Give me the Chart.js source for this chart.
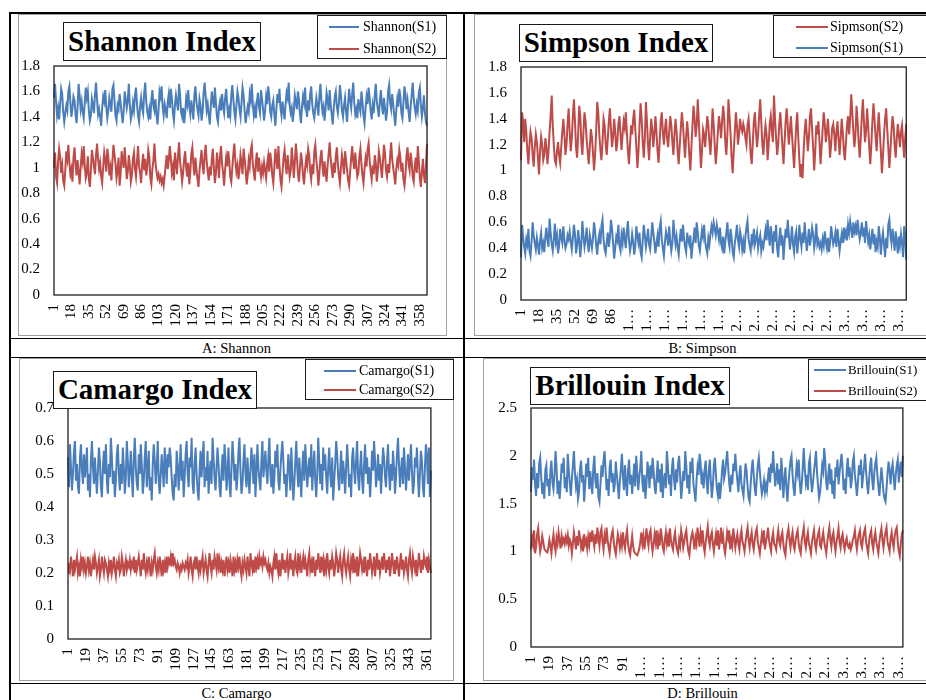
<!DOCTYPE html>
<html><head><meta charset="utf-8">
<script src="https://cdn.jsdelivr.net/npm/chart.js@4/dist/chart.umd.min.js"></script>
<style>
html,body{margin:0;padding:0;background:#fff;}
body{width:926px;height:700px;position:relative;overflow:hidden;font-family:"Liberation Serif","Times New Roman",serif;color:#000;}
.ln{position:absolute;background:#000;}
.cap{position:absolute;text-align:center;font-size:14.5px;line-height:19px;}
.cv{position:absolute;}
.frame{position:absolute;box-sizing:border-box;border:1.5px solid #a0a0a0;pointer-events:none;}
.title{position:absolute;box-sizing:border-box;border:1.5px solid #1a1a1a;background:#fff;font-weight:bold;font-size:29px;text-align:center;white-space:nowrap;}
.leg{position:absolute;box-sizing:border-box;border:1.5px solid #1a1a1a;background:#fff;}
.leg .row{position:absolute;left:0;right:0;height:0;}
.leg .sw{position:absolute;height:1.5px;top:-0.75px;}
.leg .tx{position:absolute;top:-9px;line-height:18px;white-space:nowrap;}
</style>
</head><body>

<div class="ln" style="left:10px;top:12px;width:930px;height:1.5px"></div>
<div class="ln" style="left:9px;top:12px;width:2px;height:700px"></div>
<div class="ln" style="left:463px;top:12px;width:1.5px;height:700px"></div>
<div class="ln" style="left:10px;top:337.5px;width:930px;height:1.5px"></div>
<div class="ln" style="left:10px;top:356.5px;width:930px;height:1.5px"></div>
<div class="ln" style="left:10px;top:682.5px;width:930px;height:1.5px"></div>

<div class="cap" style="left:10px;width:453px;top:339px">A: Shannon</div>
<div class="cap" style="left:464px;width:477px;top:339px">B: Simpson</div>
<div class="cap" style="left:10px;width:453px;top:684px">C: Camargo</div>
<div class="cap" style="left:464px;width:477px;top:684px">D: Brillouin</div>

<canvas id="cA" class="cv" width="429" height="322" style="left:18px;top:14px"></canvas>
<div class="frame" style="left:18px;top:14px;width:429px;height:322px"></div>
<canvas id="cB" class="cv" width="452" height="322" style="left:474px;top:14px"></canvas>
<div class="frame" style="left:474px;top:14px;width:460px;height:322px"></div>
<canvas id="cC" class="cv" width="435" height="323" style="left:19px;top:358px"></canvas>
<div class="frame" style="left:19px;top:358px;width:435px;height:323px"></div>
<canvas id="cD" class="cv" width="443" height="323" style="left:483px;top:358px"></canvas>
<div class="frame" style="left:483px;top:358px;width:450px;height:323px"></div>

<div class="title" style="left:63px;top:22px;width:198px;height:39px;line-height:36px">Shannon Index</div>
<div class="title" style="left:519px;top:24px;width:194px;height:38px;line-height:35px">Simpson Index</div>
<div class="title" style="left:53px;top:371px;width:204px;height:38px;line-height:35px">Camargo Index</div>
<div class="title" style="left:530px;top:367px;width:200px;height:38px;line-height:35px">Brillouin Index</div>

<div class="leg" style="left:317px;top:15px;width:130px;height:44px;font-size:14px">
  <div class="row" style="top:11px"><div class="sw" style="left:11px;width:30px;background:#4A7EBB"></div><div class="tx" style="left:45px">Shannon(S1)</div></div>
  <div class="row" style="top:33px"><div class="sw" style="left:11px;width:30px;background:#BE4B48"></div><div class="tx" style="left:45px">Shannon(S2)</div></div>
</div>
<div class="leg" style="left:773px;top:15px;width:160px;height:43px;font-size:14px">
  <div class="row" style="top:11px"><div class="sw" style="left:22px;width:32px;background:#BE4B48"></div><div class="tx" style="left:56px">Sipmson(S2)</div></div>
  <div class="row" style="top:32px"><div class="sw" style="left:22px;width:32px;background:#4A7EBB"></div><div class="tx" style="left:56px">Sipmson(S1)</div></div>
</div>
<div class="leg" style="left:305px;top:359px;width:149px;height:41px;font-size:14px">
  <div class="row" style="top:11px"><div class="sw" style="left:18px;width:32px;background:#4A7EBB"></div><div class="tx" style="left:53px">Camargo(S1)</div></div>
  <div class="row" style="top:30px"><div class="sw" style="left:18px;width:32px;background:#BE4B48"></div><div class="tx" style="left:53px">Camargo(S2)</div></div>
</div>
<div class="leg" style="left:808px;top:359px;width:125px;height:42px;font-size:13px">
  <div class="row" style="top:10px"><div class="sw" style="left:5px;width:32px;background:#4A7EBB"></div><div class="tx" style="left:39px">Brillouin(S1)</div></div>
  <div class="row" style="top:31px"><div class="sw" style="left:5px;width:32px;background:#BE4B48"></div><div class="tx" style="left:39px">Brillouin(S2)</div></div>
</div>

<script>
const shannonS1 = [
1.55,1.66,1.52,1.41,1.47,1.38,1.50,1.62,1.58,1.44,1.36,1.43,1.49,1.45,1.60,1.64,1.51,1.40,1.47,1.56,
1.53,1.42,1.35,1.48,1.66,1.57,1.46,1.52,1.44,1.39,1.51,1.63,1.55,1.60,1.45,1.37,1.41,1.54,1.49,1.43,
1.58,1.67,1.54,1.42,1.46,1.40,1.33,1.47,1.56,1.52,1.61,1.48,1.39,1.45,1.55,1.50,1.44,1.62,1.65,1.53,
1.41,1.37,1.49,1.46,1.58,1.51,1.43,1.35,1.44,1.60,1.54,1.47,1.53,1.66,1.49,1.38,1.42,1.51,1.45,1.57,
1.63,1.50,1.41,1.36,1.48,1.55,1.47,1.43,1.59,1.67,1.52,1.44,1.40,1.46,1.38,1.53,1.61,1.49,1.45,1.54,
1.42,1.34,1.45,1.60,1.56,1.64,1.48,1.41,1.50,1.46,1.39,1.52,1.58,1.47,1.62,1.55,1.43,1.37,1.49,1.57,
1.51,1.45,1.66,1.58,1.44,1.40,1.47,1.35,1.43,1.55,1.50,1.61,1.48,1.42,1.53,1.46,1.38,1.57,1.64,1.52,
1.46,1.41,1.54,1.49,1.37,1.44,1.59,1.67,1.56,1.45,1.50,1.42,1.34,1.48,1.60,1.53,1.47,1.63,1.51,1.40,
1.36,1.47,1.52,1.45,1.58,1.48,1.43,1.55,1.62,1.50,1.39,1.46,1.41,1.57,1.65,1.54,1.44,1.38,1.49,1.60,
1.55,1.46,1.40,1.51,1.63,1.57,1.45,1.35,1.42,1.48,1.44,1.58,1.53,1.66,1.50,1.41,1.47,1.39,1.52,1.59,
1.48,1.43,1.61,1.54,1.46,1.37,1.45,1.56,1.50,1.64,1.57,1.44,1.40,1.49,1.53,1.42,1.33,1.46,1.58,1.51,
1.62,1.47,1.41,1.52,1.45,1.38,1.50,1.59,1.55,1.67,1.49,1.43,1.47,1.36,1.44,1.57,1.52,1.46,1.60,1.54,
1.42,1.35,1.48,1.56,1.51,1.63,1.46,1.40,1.53,1.45,1.58,1.64,1.50,1.43,1.39,1.47,1.55,1.49,1.41,1.57,
1.66,1.52,1.44,1.48,1.37,1.46,1.59,1.54,1.45,1.61,1.50,1.42,1.34,1.47,1.56,1.60,1.48,1.43,1.51,1.65,
1.57,1.45,1.40,1.49,1.55,1.44,1.36,1.50,1.62,1.53,1.47,1.58,1.67,1.51,1.42,1.46,1.39,1.54,1.48,1.44,
1.60,1.52,1.41,1.35,1.47,1.56,1.50,1.63,1.55,1.45,1.38,1.49,1.43,1.57,1.66,1.52,1.46,1.40,1.53,1.61,
1.49,1.42,1.55,1.47,1.37,1.44,1.60,1.65,1.51,1.46,1.58,1.50,1.41,1.33,1.45,1.54,1.48,1.62,1.56,1.43,
1.39,1.51,1.64,1.58,1.46,1.53,1.44,1.36,1.48,1.57,1.67,1.55,1.47,1.42,1.50,1.45,1.59,1.63,1.49,1.40,
1.47,1.57,1.43,1.36,1.33];
const shannonS2 = [
1.00,1.12,0.93,0.88,1.05,1.15,1.09,0.96,1.02,0.90,0.86,0.98,1.13,1.07,1.18,1.04,0.95,0.99,0.89,1.08,
1.16,1.03,0.94,1.06,0.97,0.87,1.00,1.11,1.05,1.17,1.02,0.92,0.96,1.09,0.91,0.85,0.98,1.14,1.08,1.01,
0.95,1.10,1.19,1.07,0.99,1.04,0.93,0.88,1.01,1.12,1.06,0.97,1.15,1.09,0.94,1.00,0.90,1.05,1.18,1.11,
1.03,0.92,0.98,1.08,0.86,0.95,1.13,1.06,1.00,1.16,1.04,0.91,0.97,1.10,1.02,0.89,0.94,1.07,1.12,0.99,
0.93,1.05,1.17,1.01,0.96,0.88,1.03,1.11,0.98,1.07,0.94,1.00,1.14,1.09,0.92,0.87,0.99,1.06,1.19,1.04,
0.97,0.92,0.95,0.90,0.93,0.88,0.91,0.86,0.94,1.02,1.10,0.99,1.06,1.17,1.08,0.96,1.01,0.90,1.12,1.04,
0.95,1.09,1.20,1.05,0.98,0.89,0.96,1.07,1.13,1.00,0.93,1.04,0.87,0.97,1.11,1.16,1.03,0.94,1.08,0.99,
0.91,0.85,0.98,1.06,1.14,1.02,0.95,1.10,1.18,1.05,0.97,0.90,1.01,0.94,1.07,1.15,1.00,0.88,0.96,1.12,
1.04,0.92,1.09,1.17,1.03,0.96,0.86,0.99,1.08,1.01,1.13,1.06,0.93,0.89,1.00,1.11,1.19,1.05,0.97,1.02,
0.91,0.98,1.10,1.04,0.95,1.15,1.07,0.99,0.87,0.94,1.06,1.01,1.14,1.18,1.03,0.96,0.90,1.05,1.12,0.97,
1.08,0.99,0.93,1.01,0.96,1.04,0.98,0.92,1.03,1.09,0.97,1.12,1.05,0.94,0.88,1.00,1.15,1.07,0.99,1.17,
1.02,0.90,0.85,0.97,1.08,1.14,1.03,0.95,1.10,1.01,0.93,0.98,1.16,1.06,0.92,1.04,1.19,1.09,0.96,0.89,
1.00,1.12,1.05,0.94,0.87,0.99,1.07,1.02,1.15,1.10,0.97,0.91,1.03,0.95,1.13,1.18,1.06,0.98,0.86,0.96,
1.08,1.14,1.01,0.93,1.05,0.97,0.89,1.02,1.11,1.20,1.07,0.99,0.92,1.04,0.96,1.09,1.16,1.03,0.94,0.88,
1.00,1.10,1.04,0.95,1.13,1.06,0.98,0.90,0.86,0.97,1.08,1.17,1.05,0.99,1.12,1.01,0.93,0.96,1.09,1.15,
1.03,0.94,0.88,0.99,1.07,1.01,1.14,1.19,1.06,0.97,0.91,1.02,0.95,1.10,1.04,0.89,0.98,1.13,1.08,1.00,
0.92,1.05,1.18,1.11,0.98,0.93,1.03,0.96,1.09,1.20,1.07,1.00,0.94,0.87,0.99,1.06,1.02,1.14,1.08,0.97,
1.04,0.91,0.86,0.95,1.10,1.16,1.03,0.98,1.12,1.05,0.93,0.89,1.01,1.08,0.96,1.17,1.06,0.92,0.85,0.97,
1.07,0.94,0.88,1.02,1.19];
const simpsonS2 = [
1.08,1.45,1.38,1.22,1.40,1.30,1.15,1.05,1.20,1.30,1.25,1.12,1.03,1.18,1.28,1.22,1.10,0.97,1.15,1.26,
1.20,1.08,1.12,1.25,1.18,1.05,1.15,1.30,1.42,1.58,1.35,1.20,1.08,1.05,1.15,1.22,1.12,1.06,1.18,1.30,
1.40,1.28,1.12,1.20,1.36,1.48,1.30,1.15,1.25,1.42,1.55,1.38,1.18,1.10,1.28,1.50,1.42,1.22,1.12,1.30,
1.45,1.38,1.24,1.15,1.05,1.18,1.32,1.26,1.14,1.00,1.12,1.30,1.53,1.45,1.28,1.16,1.08,1.22,1.40,1.35,
1.20,1.12,1.25,1.38,1.48,1.32,1.18,1.26,1.40,1.30,1.15,1.22,1.36,1.42,1.28,1.16,1.28,1.38,1.33,1.45,
1.30,1.15,1.05,1.20,1.35,1.28,1.40,1.47,1.32,1.18,1.02,1.15,1.35,1.52,1.40,1.22,1.10,1.25,1.53,1.38,
1.20,1.08,1.25,1.40,1.32,1.18,1.28,1.42,1.30,1.15,1.06,1.22,1.38,1.45,1.30,1.20,1.32,1.40,1.25,1.18,
1.30,1.42,1.35,1.22,1.12,1.28,1.40,1.30,1.15,1.05,1.20,1.33,1.45,1.36,1.22,1.10,1.26,1.38,1.28,1.12,
1.00,1.18,1.35,1.50,1.40,1.26,1.35,1.55,1.38,1.20,1.02,1.15,1.32,1.28,1.18,1.30,1.42,1.35,1.22,1.12,
1.28,1.48,1.36,1.20,1.05,1.16,1.30,1.42,1.35,1.25,1.38,1.50,1.40,1.22,1.12,1.28,1.55,1.42,1.28,1.10,
0.98,1.15,1.30,1.45,1.35,1.20,1.28,1.40,1.33,1.30,1.36,1.32,1.25,1.20,1.35,1.40,1.28,1.12,1.05,1.22,
1.38,1.45,1.30,1.18,1.28,1.42,1.55,1.38,1.20,1.12,1.26,1.35,1.28,1.08,1.20,1.36,1.42,1.30,1.22,1.58,
1.40,1.25,1.12,1.20,1.36,1.45,1.32,1.18,1.05,1.22,1.38,1.48,1.35,1.20,1.30,1.42,1.28,1.15,1.02,1.18,
1.35,1.45,1.25,1.08,0.95,1.05,0.94,1.15,1.30,1.40,1.28,1.15,1.25,1.42,1.48,1.32,1.18,1.00,1.15,1.35,
1.28,1.38,1.22,1.05,1.18,1.32,1.45,1.36,1.22,1.30,1.40,1.26,1.10,1.20,1.33,1.36,1.28,1.15,1.30,1.38,
1.25,1.12,1.25,1.40,1.30,1.15,1.08,1.22,1.35,1.42,1.28,1.40,1.59,1.45,1.30,1.18,1.28,1.50,1.38,1.22,
1.10,1.25,1.42,1.55,1.38,1.22,1.30,1.48,1.35,1.18,1.05,1.20,1.38,1.52,1.40,1.26,1.15,1.32,1.45,1.30,
1.15,0.98,1.12,1.28,1.40,1.48,1.32,1.18,1.02,1.15,1.30,1.42,1.35,1.20,1.10,1.25,1.36,1.28,1.18,1.30,
1.35,1.22,1.10,1.25,1.36];
const simpsonS1 = [
0.33,0.58,0.49,0.41,0.36,0.47,0.43,0.55,0.38,0.34,0.45,0.60,0.50,0.44,0.39,0.48,0.42,0.35,0.46,0.52,
0.40,0.44,0.37,0.49,0.56,0.46,0.41,0.63,0.52,0.43,0.38,0.47,0.59,0.45,0.50,0.36,0.42,0.55,0.48,0.44,
0.57,0.46,0.40,0.43,0.50,0.47,0.53,0.45,0.39,0.48,0.58,0.51,0.36,0.42,0.54,0.46,0.33,0.44,0.61,0.49,
0.41,0.47,0.56,0.44,0.37,0.50,0.45,0.40,0.48,0.60,0.53,0.42,0.35,0.46,0.51,0.43,0.57,0.62,0.47,0.39,
0.36,0.45,0.52,0.41,0.48,0.62,0.55,0.44,0.32,0.40,0.49,0.46,0.58,0.42,0.38,0.50,0.44,0.56,0.47,0.40,
0.53,0.61,0.46,0.38,0.43,0.51,0.45,0.35,0.42,0.57,0.49,0.44,0.52,0.37,0.33,0.46,0.58,0.50,0.41,0.47,
0.55,0.43,0.39,0.48,0.60,0.52,0.45,0.36,0.44,0.50,0.41,0.56,0.61,0.47,0.40,0.34,0.45,0.53,0.49,0.42,
0.57,0.46,0.38,0.44,0.62,0.51,0.43,0.49,0.40,0.35,0.47,0.55,0.45,0.58,0.48,0.41,0.37,0.52,0.46,0.43,
0.50,0.32,0.41,0.47,0.56,0.44,0.60,0.52,0.42,0.38,0.46,0.54,0.49,0.58,0.45,0.40,0.36,0.48,0.43,0.51,
0.57,0.52,0.60,0.55,0.50,0.58,0.53,0.47,0.56,0.44,0.40,0.49,0.36,0.45,0.52,0.60,0.46,0.41,0.55,0.48,
0.37,0.33,0.44,0.50,0.58,0.46,0.41,0.53,0.48,0.39,0.45,0.36,0.49,0.56,0.61,0.47,0.42,0.38,0.51,0.45,
0.55,0.43,0.47,0.52,0.40,0.46,0.50,0.38,0.44,0.41,0.48,0.54,0.46,0.62,0.51,0.42,0.57,0.49,0.36,0.53,
0.45,0.58,0.40,0.33,0.47,0.56,0.42,0.50,0.31,0.44,0.55,0.48,0.62,0.51,0.39,0.46,0.57,0.43,0.37,0.49,
0.53,0.36,0.45,0.58,0.47,0.41,0.52,0.44,0.60,0.49,0.38,0.46,0.55,0.42,0.48,0.56,0.51,0.40,0.46,0.59,
0.43,0.46,0.41,0.44,0.39,0.47,0.42,0.53,0.45,0.40,0.48,0.37,0.44,0.57,0.50,0.43,0.46,0.52,0.41,0.55,
0.47,0.38,0.45,0.51,0.44,0.56,0.49,0.53,0.46,0.58,0.52,0.61,0.55,0.48,0.60,0.53,0.57,0.50,0.62,0.54,
0.47,0.52,0.60,0.49,0.56,0.44,0.61,0.53,0.45,0.50,0.39,0.47,0.55,0.43,0.51,0.37,0.45,0.41,0.57,0.49,
0.35,0.46,0.52,0.43,0.33,0.48,0.40,0.58,0.62,0.50,0.44,0.55,0.47,0.38,0.53,0.45,0.36,0.49,0.42,0.51,
0.44,0.33,0.57,0.49,0.31];
const camargoS1 = [
0.55,0.46,0.59,0.52,0.45,0.50,0.57,0.60,0.48,0.53,0.46,0.44,0.55,0.59,0.51,0.47,0.56,0.49,0.53,0.58,
0.45,0.50,0.43,0.54,0.60,0.52,0.47,0.55,0.49,0.44,0.51,0.58,0.54,0.46,0.43,0.52,0.57,0.50,0.59,0.48,
0.44,0.53,0.49,0.61,0.55,0.47,0.51,0.43,0.48,0.56,0.59,0.50,0.45,0.53,0.47,0.58,0.52,0.44,0.49,0.60,
0.54,0.46,0.51,0.57,0.49,0.43,0.55,0.61,0.52,0.47,0.45,0.56,0.50,0.59,0.53,0.44,0.48,0.55,0.60,0.46,
0.51,0.57,0.45,0.49,0.42,0.53,0.59,0.54,0.47,0.52,0.60,0.48,0.44,0.50,0.56,0.51,0.46,0.58,0.53,0.47,
0.56,0.52,0.58,0.55,0.49,0.44,0.42,0.50,0.46,0.57,0.53,0.45,0.51,0.59,0.48,0.54,0.43,0.49,0.56,0.60,
0.50,0.46,0.55,0.52,0.61,0.47,0.44,0.53,0.58,0.50,0.45,0.42,0.51,0.57,0.49,0.55,0.60,0.46,0.52,0.48,
0.57,0.44,0.50,0.54,0.47,0.61,0.55,0.49,0.45,0.52,0.58,0.53,0.46,0.43,0.51,0.56,0.48,0.59,0.54,0.45,
0.50,0.58,0.47,0.43,0.52,0.60,0.55,0.48,0.53,0.45,0.49,0.57,0.61,0.51,0.44,0.47,0.54,0.59,0.50,0.46,
0.55,0.49,0.44,0.51,0.58,0.53,0.47,0.56,0.43,0.50,0.59,0.52,0.48,0.45,0.54,0.60,0.49,0.53,0.57,0.51,
0.47,0.55,0.61,0.50,0.46,0.53,0.44,0.49,0.57,0.52,0.59,0.48,0.45,0.51,0.56,0.60,0.54,0.47,0.50,0.43,
0.49,0.56,0.52,0.45,0.58,0.50,0.42,0.47,0.54,0.60,0.51,0.46,0.55,0.49,0.43,0.52,0.57,0.48,0.59,0.53,
0.46,0.51,0.55,0.49,0.59,0.45,0.52,0.57,0.48,0.43,0.50,0.61,0.54,0.47,0.53,0.45,0.58,0.51,0.56,0.49,
0.44,0.52,0.58,0.50,0.46,0.55,0.42,0.48,0.53,0.60,0.56,0.49,0.45,0.51,0.57,0.47,0.54,0.50,0.44,0.52,
0.59,0.53,0.46,0.50,0.43,0.55,0.58,0.51,0.47,0.54,0.60,0.49,0.45,0.52,0.57,0.48,0.44,0.53,0.59,0.50,
0.55,0.47,0.52,0.43,0.49,0.57,0.51,0.60,0.54,0.46,0.50,0.56,0.48,0.53,0.44,0.51,0.58,0.55,0.49,0.46,
0.54,0.59,0.50,0.45,0.53,0.48,0.57,0.52,0.44,0.49,0.56,0.61,0.53,0.46,0.51,0.55,0.47,0.58,0.52,0.45,
0.50,0.56,0.48,0.53,0.59,0.51,0.44,0.47,0.55,0.52,0.58,0.49,0.43,0.50,0.57,0.54,0.46,0.43,0.52,0.59,
0.55,0.47,0.58,0.43,0.51];
const camargoS2 = [
0.20,0.23,0.21,0.25,0.22,0.19,0.24,0.21,0.23,0.25,0.20,0.22,0.19,0.24,0.22,0.25,0.21,0.23,0.20,0.22,
0.25,0.21,0.23,0.19,0.22,0.24,0.21,0.25,0.23,0.20,0.22,0.24,0.19,0.21,0.25,0.22,0.20,0.24,0.23,0.21,
0.19,0.23,0.21,0.24,0.20,0.22,0.25,0.21,0.19,0.23,0.22,0.24,0.20,0.21,0.25,0.23,0.19,0.22,0.24,0.21,
0.23,0.22,0.24,0.21,0.23,0.22,0.25,0.20,0.24,0.21,0.23,0.25,0.22,0.19,0.24,0.21,0.26,0.22,0.20,0.23,
0.21,0.25,0.22,0.19,0.23,0.21,0.24,0.26,0.22,0.20,0.23,0.21,0.25,0.22,0.19,0.24,0.21,0.23,0.20,0.25,
0.22,0.24,0.23,0.25,0.22,0.26,0.23,0.24,0.22,0.21,0.23,0.22,0.20,0.22,0.21,0.23,0.22,0.21,0.23,0.22,
0.24,0.20,0.22,0.25,0.21,0.19,0.23,0.24,0.21,0.25,0.22,0.20,0.24,0.21,0.23,0.25,0.20,0.22,0.24,0.21,
0.19,0.23,0.26,0.22,0.20,0.24,0.21,0.25,0.23,0.21,0.26,0.22,0.24,0.20,0.23,0.21,0.24,0.19,0.22,0.25,
0.21,0.23,0.20,0.24,0.22,0.19,0.25,0.21,0.23,0.20,0.24,0.22,0.25,0.21,0.19,0.23,0.21,0.24,0.22,0.20,
0.25,0.22,0.19,0.26,0.23,0.21,0.24,0.20,0.25,0.22,0.24,0.21,0.25,0.23,0.24,0.22,0.25,0.23,0.24,0.22,
0.21,0.23,0.20,0.22,0.21,0.19,0.23,0.25,0.21,0.26,0.22,0.20,0.24,0.19,0.22,0.26,0.21,0.24,0.20,0.23,
0.25,0.20,0.22,0.26,0.21,0.24,0.19,0.23,0.25,0.21,0.20,0.26,0.22,0.24,0.20,0.23,0.25,0.21,0.24,0.22,
0.19,0.24,0.26,0.21,0.23,0.20,0.25,0.22,0.19,0.24,0.21,0.26,0.23,0.20,0.25,0.22,0.24,0.19,0.23,0.21,
0.26,0.22,0.20,0.24,0.21,0.25,0.23,0.19,0.22,0.26,0.24,0.20,0.23,0.25,0.21,0.19,0.24,0.26,0.22,0.20,
0.23,0.25,0.21,0.19,0.24,0.22,0.26,0.20,0.23,0.21,0.25,0.19,0.22,0.26,0.24,0.21,0.23,0.20,0.25,0.22,
0.19,0.24,0.21,0.26,0.23,0.20,0.22,0.25,0.19,0.23,0.26,0.21,0.24,0.20,0.22,0.25,0.21,0.26,0.23,0.20,
0.24,0.21,0.25,0.19,0.22,0.26,0.23,0.20,0.24,0.21,0.25,0.22,0.19,0.23,0.26,0.21,0.24,0.20,0.22,0.25,
0.21,0.19,0.24,0.26,0.22,0.20,0.25,0.23,0.21,0.24,0.19,0.22,0.26,0.23,0.20,0.24,0.21,0.25,0.23,0.22,
0.25,0.20,0.24,0.22,0.20];
const brillouinS1 = [
1.62,1.88,1.75,1.96,1.70,1.58,1.82,1.66,1.92,1.98,1.78,1.60,1.72,1.55,1.85,1.90,1.68,1.76,1.58,1.84,
1.95,1.72,1.65,1.80,2.05,1.88,1.60,1.74,1.55,1.70,1.92,1.82,1.98,1.66,1.78,1.62,2.02,1.85,1.70,1.58,
1.76,1.90,2.05,1.82,1.68,1.75,1.55,1.62,1.86,1.95,1.72,1.80,1.52,1.68,1.92,1.78,1.98,1.65,1.84,1.70,
1.60,1.88,2.00,1.74,1.66,1.82,1.57,1.52,1.70,1.90,1.78,1.95,2.05,1.85,1.64,1.76,1.58,1.88,1.96,1.72,
1.82,1.62,1.70,1.94,1.80,1.68,1.55,1.74,1.86,2.02,1.78,1.64,1.90,1.72,1.58,1.84,1.96,1.70,1.80,1.60,
1.75,1.92,1.68,2.00,1.82,1.64,1.78,1.88,2.05,1.72,1.62,1.80,1.55,1.70,1.94,1.85,1.66,1.90,1.76,1.98,
1.84,1.68,1.60,1.78,1.95,1.72,1.86,1.62,1.92,1.56,1.74,1.82,1.66,2.05,1.90,1.70,1.80,1.58,1.88,1.98,
1.76,1.64,1.86,1.72,1.92,2.00,1.78,1.55,1.68,1.84,1.74,2.05,1.90,1.66,1.80,1.60,1.94,1.82,1.98,1.70,
1.62,1.52,1.74,1.88,1.80,2.02,1.92,1.70,1.78,1.66,1.86,1.95,1.72,1.60,1.84,1.96,1.74,1.56,1.68,1.90,
1.98,1.80,1.65,1.58,1.72,1.55,1.68,1.85,1.96,1.76,1.82,1.94,2.05,1.88,1.72,1.62,1.80,1.70,1.92,1.84,
2.02,1.86,1.74,1.62,1.80,1.90,1.70,1.64,1.58,1.76,1.92,1.84,1.68,1.56,1.52,1.70,1.86,1.96,1.80,1.66,
1.58,1.76,1.90,1.98,1.84,1.70,1.60,1.66,1.74,1.62,1.70,1.64,1.78,1.88,1.72,1.92,1.82,2.05,1.86,1.68,
1.78,1.92,1.70,1.86,1.64,1.98,1.82,1.56,1.74,1.88,1.66,1.52,1.70,1.84,1.95,2.00,1.80,1.66,1.58,1.76,
1.90,1.82,1.96,1.74,1.60,1.70,1.88,2.08,1.86,1.72,1.80,1.64,1.92,1.98,1.76,1.62,1.72,1.84,1.94,2.05,
1.82,1.68,1.56,1.62,1.76,1.90,1.84,2.08,1.95,1.72,1.64,1.80,1.92,1.70,1.86,1.60,1.74,1.55,1.88,1.78,
1.96,1.70,1.82,1.92,2.02,1.86,1.64,1.76,1.60,1.84,1.98,1.78,1.88,1.66,1.74,1.94,2.00,1.80,1.70,1.58,
1.72,1.90,1.80,1.96,1.66,1.78,1.88,2.02,1.84,1.70,1.60,1.76,1.90,1.98,1.74,1.64,1.82,1.92,1.98,1.80,
1.68,1.58,1.74,1.88,1.76,1.62,1.55,1.52,1.66,1.82,1.94,1.84,1.70,1.86,1.92,1.78,1.64,1.80,1.90,1.96,
1.72,1.86,1.94,1.78,2.00];
const brillouinS2 = [
1.02,1.15,1.08,1.22,0.98,1.05,1.18,1.24,1.10,1.00,1.06,1.16,1.10,1.03,1.01,1.00,0.99,1.04,1.12,1.06,
0.98,1.10,1.18,1.06,1.00,1.14,1.08,1.20,1.12,1.03,1.16,1.09,1.13,1.08,1.15,1.10,1.17,1.06,1.12,1.09,
0.98,1.08,1.20,1.12,1.02,1.16,1.06,1.22,1.14,1.04,1.10,1.00,1.18,1.08,1.12,1.03,1.15,1.07,1.20,1.10,
1.22,1.12,1.05,1.18,1.08,1.25,1.14,1.06,1.20,1.24,1.10,1.02,1.16,1.08,1.25,1.12,1.04,0.98,1.10,1.18,
1.22,1.10,1.02,0.97,1.08,1.18,1.12,1.04,1.14,1.06,1.20,1.09,1.03,1.15,1.22,1.08,1.00,0.96,1.06,1.16,
1.05,1.00,0.98,0.97,0.96,0.99,1.03,1.10,1.20,1.08,1.16,1.02,1.12,1.24,1.14,1.06,1.18,1.22,1.09,1.00,
1.08,1.18,1.10,1.22,1.02,1.14,1.06,1.24,1.16,1.04,1.00,1.12,1.20,1.08,1.15,1.05,1.24,1.12,1.06,1.02,
1.14,1.20,1.08,1.02,0.98,1.12,1.06,1.22,1.15,1.04,1.10,1.18,1.22,1.09,1.00,0.96,1.08,1.16,1.20,1.12,
1.02,1.14,1.08,1.25,1.16,1.05,1.20,1.12,1.22,1.06,0.99,1.10,1.18,1.26,1.12,1.06,1.16,1.20,1.08,1.00,
1.10,1.18,1.06,1.22,1.02,1.12,1.25,1.08,1.16,1.04,0.98,1.08,1.20,1.14,1.22,1.02,1.12,1.06,1.24,1.14,
1.04,1.12,1.18,1.08,1.02,1.16,1.22,1.10,1.06,1.00,1.10,1.18,1.25,1.12,1.04,1.14,1.20,1.08,1.02,1.12,
1.20,1.24,1.10,1.04,0.98,1.08,1.18,1.12,1.22,1.02,1.10,1.16,1.25,1.12,1.05,1.00,1.14,1.20,1.08,1.06,
1.02,1.14,1.22,1.10,1.06,1.16,1.20,1.08,1.00,0.96,1.10,1.18,1.24,1.12,1.04,1.14,1.20,1.06,1.02,1.12,
1.18,1.22,1.08,1.02,0.98,1.12,1.18,1.25,1.10,1.04,1.14,1.20,1.08,1.04,0.98,1.10,1.16,1.22,1.08,1.02,
1.12,1.18,1.22,1.06,1.04,1.14,1.20,1.10,1.04,0.98,1.10,1.18,1.25,1.12,1.05,1.16,1.20,1.08,1.00,1.10,
1.16,1.24,1.10,1.04,1.14,1.18,1.08,1.02,1.10,1.14,1.06,1.04,1.08,1.02,1.06,1.12,1.16,1.22,1.10,1.02,
1.12,1.18,1.22,1.08,1.04,1.14,1.20,1.24,1.10,1.04,0.98,1.12,1.18,1.22,1.08,1.02,1.14,1.20,1.10,1.04,
0.98,1.10,1.18,1.24,1.12,1.04,1.14,1.20,1.25,1.10,1.05,1.00,1.14,1.20,1.10,1.04,1.16,1.22,1.25,1.10,
1.00,0.95,1.08,1.18,1.22];

const shannonTicks = ["1","18","35","52","69","86","103","120","137","154","171","188","205","222","239","256","273","290","307","324","341","358"];
const simpsonTicks = ["1","18","35","52","69","86","1…","1…","1…","1…","1…","1…","2…","2…","2…","2…","2…","2…","3…","3…","3…","3…"];
const camargoTicks = ["1","19","37","55","73","91","109","127","145","163","181","199","217","235","253","271","289","307","325","343","361"];
const brillouinTicks = ["1","19","37","55","73","91","1…","1…","1…","1…","1…","1…","2…","2…","2…","2…","2…","3…","3…","3…","3…"];

const BLUE = '#4A7EBB', RED = '#BE4B48';
const nPoints = Math.max(shannonS1.length, shannonS2.length, simpsonS1.length, simpsonS2.length,
  camargoS1.length, camargoS2.length, brillouinS1.length, brillouinS2.length);
const categories = Array.from({length: nPoints}, (_, i) => String(i + 1));

Chart.defaults.font.family = "'Liberation Serif','Times New Roman',serif";
Chart.defaults.color = '#000';

const frame = {
  id: 'frame',
  afterDatasetsDraw(c) {
    const a = c.chartArea, x = c.ctx;
    x.save();
    x.strokeStyle = '#1f1f1f';
    x.lineWidth = 1.3;
    x.strokeRect(a.left, a.top, a.right - a.left, a.bottom - a.top);
    x.restore();
  }
};

function makeChart(id, box, plot, yMax, yStep, tickLabels, step, sets) {
  new Chart(document.getElementById(id), {
    type: 'line',
    data: {
      labels: categories,
      datasets: sets.map(s => ({data: s.data, borderColor: s.color, borderWidth: 2, pointRadius: 0, tension: 0, fill: false}))
    },
    options: {
      responsive: false, animation: false, events: [],
      layout: {padding: {left: 0, top: plot.t - box.y, right: box.x + box.w - plot.r, bottom: 0}},
      plugins: {legend: {display: false}, tooltip: {enabled: false}, title: {display: false}},
      scales: {
        x: {
          type: 'category', offset: false,
          grid: {display: false, drawTicks: false}, border: {display: false},
          ticks: {autoSkip: false, maxRotation: 90, minRotation: 90, padding: 9, font: {size: 15},
            callback: (v, i) => (i % step === 0 ? tickLabels[i / step] : null)},
          afterFit: s => { s.height = box.y + box.h - plot.b; }
        },
        y: {
          min: 0, max: yMax,
          grid: {display: false, drawTicks: false}, border: {display: false},
          ticks: {stepSize: yStep, padding: 14, font: {size: 15},
            callback: v => String(+(+v).toFixed(1))},
          afterFit: s => { s.width = plot.l - box.x; }
        }
      }
    },
    plugins: [frame]
  });
}

makeChart('cA', {x:18,y:14,w:429,h:322}, {l:54,t:66,r:439,b:295}, 1.8, 0.2, shannonTicks, 17,
  [{data: shannonS1, color: BLUE}, {data: shannonS2, color: RED}]);
makeChart('cB', {x:474,y:14,w:452,h:322}, {l:521,t:67,r:919,b:300}, 1.8, 0.2, simpsonTicks, 17,
  [{data: simpsonS2, color: RED}, {data: simpsonS1, color: BLUE}]);
makeChart('cC', {x:19,y:358,w:435,h:323}, {l:68,t:408,r:445,b:639}, 0.7, 0.1, camargoTicks, 18,
  [{data: camargoS1, color: BLUE}, {data: camargoS2, color: RED}]);
makeChart('cD', {x:483,y:358,w:443,h:323}, {l:531,t:408,r:907,b:647}, 2.5, 0.5, brillouinTicks, 18,
  [{data: brillouinS1, color: BLUE}, {data: brillouinS2, color: RED}]);
</script>
</body></html>
